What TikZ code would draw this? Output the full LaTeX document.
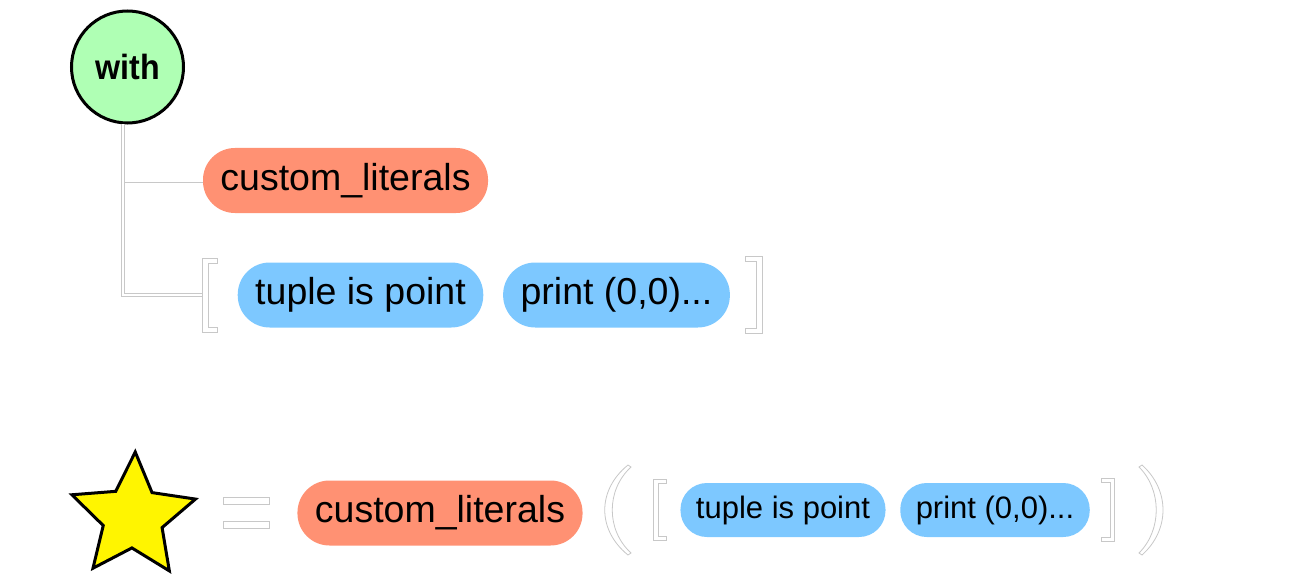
\documentclass[tikz,border=0pt]{standalone}
\usepackage{fontspec}
\setmainfont{Liberation Sans}
\usetikzlibrary{shapes.geometric}

\definecolor{litcol}{RGB}{255,145,115}
\definecolor{stmtcol}{RGB}{125,200,255}
\definecolor{kwcol}{RGB}{175,255,180}
\definecolor{starcol}{RGB}{255,245,0}
\definecolor{railcol}{RGB}{200,200,200}

\begin{document}
\begin{tikzpicture}[x=1pt,y=-1pt,every node/.style={black},
	pill/.style={rounded corners=32pt,minimum height=65pt,inner xsep=17.5pt,inner ysep=0pt,font=\fontsize{37.5}{40}\selectfont},
	smallpill/.style={pill,rounded corners=26.5pt,minimum height=54pt,inner xsep=15.5pt,font=\fontsize{31}{34}\selectfont},
	rail/.style={draw=railcol,line width=0.8pt,double=white,double distance=2.4pt},
	hollow/.style={draw=railcol,line width=0.8pt,fill=white}]
	\useasboundingbox (0,0) rectangle (1290,575);

%	\coordinate (    ) at (x    , y    );
	\coordinate (kw)   at (127.5, 67  );
	\coordinate (lit1) at (345.5, 180.5);
	\coordinate (tup1) at (360.5, 295 );
	\coordinate (prt1) at (616.5, 295 );
	\coordinate (brk1) at (203  , 295 );
	\coordinate (sym)  at (133  , 517 );
	\coordinate (lit2) at (440  , 513 );
	\coordinate (tup2) at (783  , 510 );
	\coordinate (prt2) at (995  , 510 );

	\node[circle,draw,line width=3pt,fill=kwcol,minimum size=112pt,inner sep=0pt,font=\bfseries\fontsize{35}{38}\selectfont] (with) at (kw) {\scalebox{0.92}[1]{with}};
	\node[pill,fill=litcol]  (cl1) at (lit1) {custom\_literals};
	\node[pill,fill=stmtcol] (tp1) at (tup1) {tuple is point};
	\node[pill,fill=stmtcol] (pr1) at (prt1) {print (0,0)...};

	\draw[rail] ([xshift=-4.5pt]with.south) |- (cl1.west);
	\draw[rail] ([xshift=-4.5pt]with.south) |- (brk1);

	% brackets round the body
	\draw[hollow] (202,258) -- (217,258) -- (217,263) -- (208,263) -- (208,327) -- (217,327) -- (217,332) -- (202,332) -- cycle;
	\draw[hollow] (745,256) -- (762,256) -- (762,333) -- (745,333) -- (745,328) -- (756,328) -- (756,261) -- (745,261) -- cycle;

	\node[star,star points=5,star point ratio=2.1,rotate=-2,draw,line width=3pt,fill=starcol,minimum size=130pt,inner sep=0pt] (st) at (sym) {};
	\draw[hollow] (223,497) rectangle (269,504);
	\draw[hollow] (223,521) rectangle (269,528);
	\node[pill,fill=litcol]       (cl2) at (lit2) {custom\_literals};
	\node[smallpill,fill=stmtcol] (tp2) at (tup2) {tuple is point};
	\node[smallpill,fill=stmtcol] (pr2) at (prt2) {print (0,0)...};

	% parentheses and brackets
	\draw[hollow] (628,465) .. controls (597,490) and (597,530) .. (628,555) -- (631,553) .. controls (606,530) and (606,490) .. (631,467) -- cycle;
	\draw[hollow] (653,479) -- (666,479) -- (666,483) -- (658,483) -- (658,536) -- (666,536) -- (666,540) -- (653,540) -- cycle;
	\draw[hollow] (1101,478) -- (1114,478) -- (1114,541) -- (1101,541) -- (1101,537) -- (1110,537) -- (1110,482) -- (1101,482) -- cycle;
	\draw[hollow] (1142,465) .. controls (1170,490) and (1170,530) .. (1142,555) -- (1139,553) .. controls (1162,530) and (1162,490) .. (1139,467) -- cycle;
\end{tikzpicture}
\end{document}
